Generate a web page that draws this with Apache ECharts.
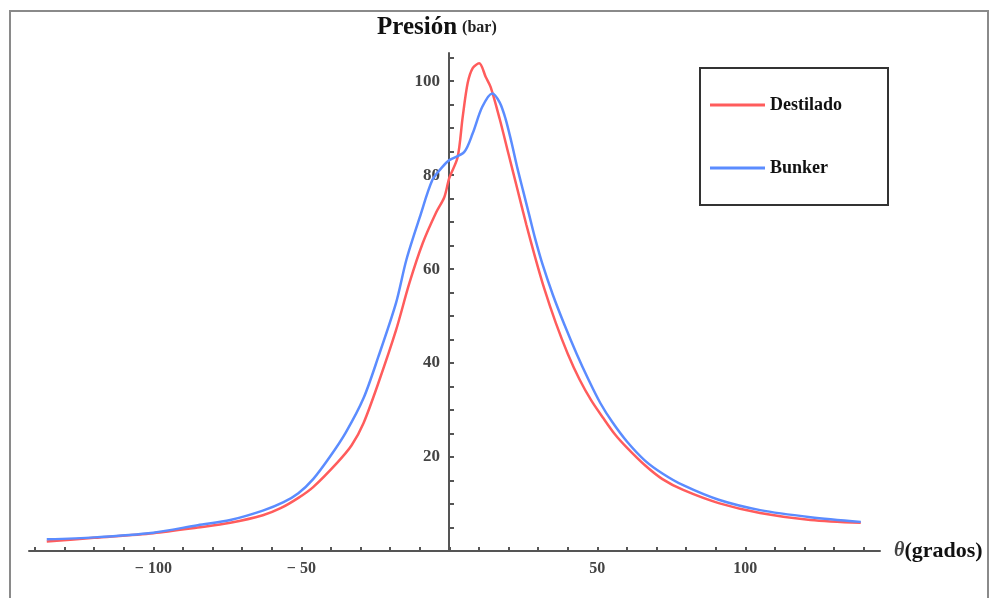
<!DOCTYPE html>
<html>
<head>
<meta charset="utf-8">
<title>Presión vs ángulo</title>
<script src="https://cdn.jsdelivr.net/npm/echarts@6/dist/echarts.min.js"></script>
<style>
  html, body { margin: 0; padding: 0; background: #fff; }
  #chart { width: 996px; height: 598px; }
</style>
</head>
<body>
<div id="chart"></div>
<script>
// ángulo (grados) y presión (bar)
var destiladoX = [-136, -120, -100, -85, -74, -63, -57, -51, -46, -38, -33, -29, -24, -18, -13.5, -9, -4.5, -1.7, 0, 2.8, 4.5, 6.2, 7.9, 10.1, 12.3, 14, 17, 20, 23, 26, 29, 32, 36, 40, 44, 48, 52, 56, 60, 66, 72, 79, 91, 105, 122, 139];
var destiladoY = [2.0, 2.8, 3.8, 5.0, 6.0, 7.6, 9.1, 11.3, 13.6, 18.7, 22.5, 27.2, 35.7, 47, 57, 65.5, 72, 75.3, 79.4, 83.8, 92.3, 99.6, 102.8, 103.8, 100.9, 98.7, 92, 84.5, 77, 69.5, 62.5, 56, 48.5, 42, 36.5, 32, 28.3, 24.8, 22.0, 18.3, 15.3, 13.0, 10.2, 8.1, 6.6, 6.0];

var bunkerX = [-136, -120, -100, -85, -74, -63, -56, -51, -46, -40.4, -35, -29, -24, -18, -14.5, -10, -5.7, -2.4, 0, 5, 7.9, 11.1, 14.5, 17, 19, 21, 23, 25, 27, 29, 31.5, 35, 39, 43, 47, 51, 55, 60, 66, 72, 79, 91, 105, 122, 139];
var bunkerY = [2.5, 2.9, 3.9, 5.5, 6.6, 8.6, 10.4, 12.3, 15.3, 20, 25.2, 32.5, 41.3, 52.8, 62, 71, 79, 81.7, 83.2, 84.9, 88.9, 94.5, 97.4, 95.5, 92, 87, 81.5, 76.5, 71.5, 66.5, 61, 54.5, 48, 42, 36.5, 31.5, 27.5, 23.3, 19.3, 16.5, 14.0, 10.9, 8.7, 7.2, 6.2];

var xTicks = [-140, -130, -120, -110, -100, -90, -80, -70, -60, -50, -40, -30, -20, -10, 0, 10, 20, 30, 40, 50, 60, 70, 80, 90, 100, 110, 120, 130, 140];
var xLabels = [-100, -50, 50, 100];
var yTicks = [5, 10, 15, 20, 25, 30, 35, 40, 45, 50, 55, 60, 65, 70, 75, 80, 85, 90, 95, 100, 105];
var yLabels = [20, 40, 60, 80, 100];

function pairs(xs, ys) {
  return xs.map(function (x, i) { return [x, ys[i]]; });
}

var serif = "'Liberation Serif', 'DejaVu Serif', serif";
var axisColor = "#555";

var chart = echarts.init(document.getElementById("chart"));

var option = {
  animation: false,
  title: {
    left: 372,
    top: 10,
    text: "{a|Presión} {b|(bar)}",
    textStyle: {
      rich: {
        a: { fontFamily: serif, fontWeight: "bold", fontSize: 25, color: "#111" },
        b: { fontFamily: serif, fontWeight: "bold", fontSize: 16, color: "#222" }
      }
    }
  },
  legend: {
    orient: "vertical",
    left: 700,
    top: 68,
    padding: [28, 46, 28, 10],
    itemGap: 45,
    itemWidth: 55,
    itemHeight: 3,
    icon: "rect",
    borderColor: "#333",
    borderWidth: 2,
    textStyle: { fontFamily: serif, fontWeight: "bold", fontSize: 18, color: "#111" },
    data: ["Destilado", "Bunker"]
  },
  grid: {
    left: 29,
    right: 116,
    top: 53,
    bottom: 47,
    outerBoundsMode: "none"
  },
  xAxis: {
    type: "value",
    min: -142,
    max: 145.5,
    name: "{t|θ}{g|(grados)}",
    nameLocation: "end",
    nameGap: 14,
    nameTextStyle: {
      verticalAlign: "middle",
      rich: {
        t: { fontFamily: serif, fontStyle: "italic", fontWeight: "bold", fontSize: 20, color: "#444" },
        g: { fontFamily: serif, fontWeight: "bold", fontSize: 22, color: "#111" }
      }
    },
    splitLine: { show: false },
    axisLine: { onZero: true, lineStyle: { color: axisColor, width: 2 } },
    axisTick: {
      inside: true,
      length: 4,
      customValues: xTicks,
      lineStyle: { color: axisColor, width: 2 }
    },
    axisLabel: {
      customValues: xLabels,
      margin: 10,
      fontFamily: serif,
      fontWeight: "bold",
      fontSize: 16,
      color: "#444",
      formatter: function (v) { return v < 0 ? "− " + Math.abs(v) : String(v); }
    }
  },
  yAxis: {
    type: "value",
    min: 0,
    max: 106,
    offset: -420,
    splitLine: { show: false },
    axisLine: { show: true, onZero: false, lineStyle: { color: axisColor, width: 2 } },
    axisTick: {
      show: true,
      inside: true,
      length: 5,
      customValues: yTicks,
      lineStyle: { color: axisColor, width: 2 }
    },
    axisLabel: {
      customValues: yLabels,
      margin: 9,
      fontFamily: serif,
      fontWeight: "bold",
      fontSize: 17,
      color: "#444"
    }
  },
  graphic: [
    {
      type: "rect",
      z: -1,
      shape: { x: 10, y: 11, width: 978, height: 620 },
      style: { fill: "none", stroke: "#8a8a8a", lineWidth: 2 }
    }
  ],
  series: [
    {
      name: "Destilado",
      type: "line",
      symbol: "none",
      smooth: 0.3,
      color: "#ff5c5c",
      lineStyle: { width: 2.5, color: "#ff5c5c" },
      data: pairs(destiladoX, destiladoY)
    },
    {
      name: "Bunker",
      type: "line",
      symbol: "none",
      smooth: 0.3,
      color: "#5b8cff",
      lineStyle: { width: 2.5, color: "#5b8cff" },
      data: pairs(bunkerX, bunkerY)
    }
  ]
};

chart.setOption(option);
</script>
</body>
</html>
